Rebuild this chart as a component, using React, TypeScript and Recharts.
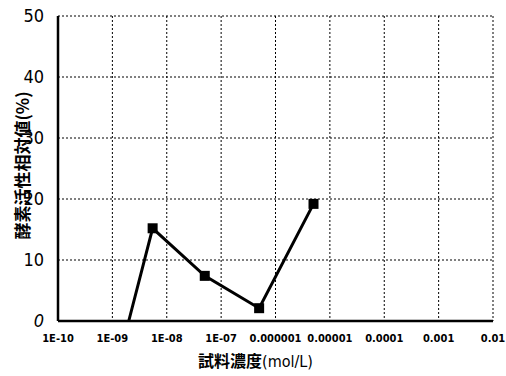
import React from 'react';
import { LineChart, Line, XAxis, YAxis, CartesianGrid, Label } from 'recharts';

// 試料濃度 (mol/L) と 酵素活性相対値 (%)
const concentrations = [2e-9, 5.5e-9, 5e-8, 5e-7, 5e-6];
const activities = [0, 15.2, 7.4, 2.1, 19.2];

const xTicks = [1e-10, 1e-9, 1e-8, 1e-7, 1e-6, 1e-5, 1e-4, 1e-3, 1e-2];
const xTickLabels = ['1E-10', '1E-09', '1E-08', '1E-07', '0.000001', '0.00001', '0.0001', '0.001', '0.01'];
const yTicks = [0, 10, 20, 30, 40, 50];

const data = concentrations.map((c, i) => ({ conc: c, value: activities[i] }));

const font = '"DejaVu Sans Condensed", "DejaVu Sans", sans-serif';
const cjk = '"Noto Sans CJK JP", sans-serif';

const XTick = ({ x, y, payload, index }: any) => (
  <text
    x={x}
    y={y + 13}
    textAnchor="middle"
    fontFamily={font}
    fontSize={11}
    fontWeight="bold"
    fill="#000"
  >
    {xTickLabels[index] ?? payload.value}
  </text>
);

const YTick = ({ x, y, payload }: any) => (
  <text
    x={x - 6}
    y={y + 6}
    textAnchor="end"
    fontFamily={font}
    fontSize={18}
    fontStyle={payload.value === 0 ? 'italic' : 'normal'}
    fill="#000"
  >
    {payload.value}
  </text>
);

const SquareDot = ({ cx, cy, index }: any) => {
  if (index === 0) return <g key={index} />;
  return <rect key={index} x={cx - 5} y={cy - 5} width={10} height={10} fill="#000" />;
};

export default function App() {
  return (
    <div style={{ position: 'absolute', left: 0, top: 0, background: '#fff' }}>
      <LineChart
        width={506}
        height={376}
        data={data}
        margin={{ top: 16, right: 13, left: 0, bottom: 15 }}
      >
        <CartesianGrid stroke="#000" strokeDasharray="2 2" strokeWidth={1} />
        <XAxis
          dataKey="conc"
          type="number"
          scale="log"
          domain={[1e-10, 1e-2]}
          ticks={xTicks}
          interval={0}
          tick={<XTick />}
          tickLine={false}
          axisLine={{ stroke: '#000', strokeWidth: 2.5 }}
          height={40}
        >
          <Label
            content={({ viewBox }: any) => (
              <text
                x={viewBox.x + viewBox.width / 2 - 20}
                y={viewBox.y + 46}
                textAnchor="middle"
                fontSize={16}
                fill="#000"
              >
                <tspan fontFamily={cjk} fontWeight="bold">試料濃度</tspan>
                <tspan fontFamily={font}>(mol/L)</tspan>
              </text>
            )}
          />
        </XAxis>
        <YAxis
          type="number"
          domain={[0, 50]}
          ticks={yTicks}
          interval={0}
          tick={<YTick />}
          tickLine={false}
          axisLine={{ stroke: '#000', strokeWidth: 2.5 }}
          width={58}
        >
          <Label
            content={({ viewBox }: any) => (
              <text
                x={21}
                y={viewBox.y + viewBox.height / 2 - 3}
                transform={`rotate(-90, 21, ${viewBox.y + viewBox.height / 2 - 3})`}
                textAnchor="middle"
                dominantBaseline="central"
                fontSize={17}
                fontFamily={cjk}
                fontWeight="bold"
                fill="#000"
              >
                酵素活性相対値(%)
              </text>
            )}
          />
        </YAxis>
        <Line
          type="linear"
          dataKey="value"
          stroke="#000"
          strokeWidth={3}
          dot={<SquareDot />}
          activeDot={false}
          isAnimationActive={false}
        />
      </LineChart>
    </div>
  );
}
